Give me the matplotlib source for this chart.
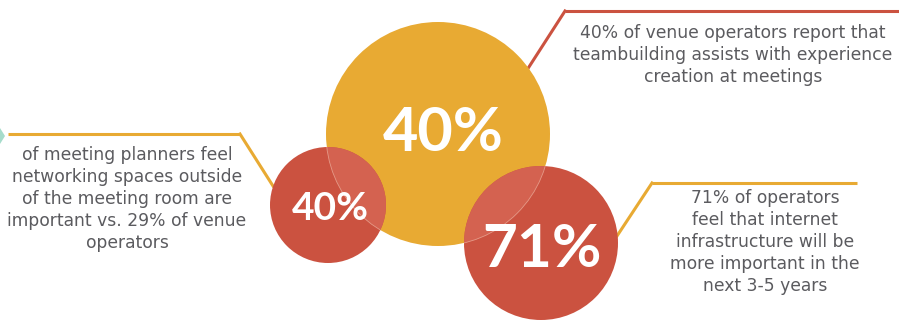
import matplotlib
matplotlib.use("Agg")
import matplotlib.pyplot as plt
from matplotlib.patches import Circle, Polygon

# Statistics shown in the bubbles
stat_values = [40, 40, 71]
stat_captions = [
    "40% of venue operators report that\nteambuilding assists with experience\ncreation at meetings",
    "of meeting planners feel\nnetworking spaces outside\nof the meeting room are\nimportant vs. 29% of venue\noperators",
    "71% of operators\nfeel that internet\ninfrastructure will be\nmore important in the\nnext 3-5 years",
]

YELLOW = "#E8AA33"
RED = "#CB5240"
OVERLAP = "#D46250"
TEXT = "#5B5B5F"
TEAL = "#A6DCCB"

W, H = 899, 328
fig = plt.figure(figsize=(W / 100, H / 100), dpi=100)
ax = fig.add_axes([0, 0, 1, 1])
ax.set_xlim(0, W)
ax.set_ylim(H, 0)
ax.set_aspect("equal")
ax.axis("off")

# bubble layout: (x, y, radius, colour, font size, label x, label y)
bubbles = [
    (438, 134, 112, YELLOW, 44, 443, 133),
    (328, 205, 58, RED, 28, 330, 208),
    (541, 243, 77, RED, 43.5, 542, 250),
]

# connector lines
ax.plot([565, 899], [11, 11], color=RED, lw=2.2, solid_capstyle="butt", zorder=1)
ax.plot([565, 527], [11, 70], color=RED, lw=2.2, zorder=1)
ax.plot([8, 240], [134, 134], color=YELLOW, lw=2.2, solid_capstyle="butt", zorder=1)
ax.plot([240, 273], [134, 186], color=YELLOW, lw=2.2, zorder=1)
ax.plot([652, 857], [183, 183], color=YELLOW, lw=2.2, solid_capstyle="butt", zorder=1)
ax.plot([652, 617], [183, 236], color=YELLOW, lw=2.2, zorder=1)

# small teal marker at the left edge
ax.add_patch(Polygon([[-6, 136], [0, 128], [5, 136], [0, 144]], closed=True,
                     facecolor=TEAL, edgecolor="none", zorder=1))

# main bubble
bx, by, br = bubbles[0][:3]
ax.add_patch(Circle((bx, by), br, facecolor=bubbles[0][3], edgecolor="none", zorder=2))

for i in (1, 2):
    x, y, r, c = bubbles[i][:4]
    red = Circle((x, y), r, facecolor=c, edgecolor="none", zorder=3)
    ax.add_patch(red)
    # lighter lens where the red bubble overlaps the yellow one
    lens = Circle((bx, by), br, facecolor=OVERLAP, edgecolor="#E59A88",
                  lw=0.6, zorder=4)
    ax.add_patch(lens)
    lens.set_clip_path(red)

num_font = ["Lato", "DejaVu Sans"]
for (x, y, r, c, fs, lx, ly), v in zip(bubbles, stat_values):
    ax.text(lx, ly, f"{v}%", ha="center", va="center",
            color="white", fontsize=fs, fontweight="bold", family=num_font, zorder=6)

cap_font = ["DejaVu Sans"]
cap_kw = dict(ha="center", va="center", color=TEXT, fontsize=12.3,
              family=cap_font, linespacing=1.28, zorder=6)
ax.text(733, 55, stat_captions[0], **cap_kw)
ax.text(127, 199, stat_captions[1], **cap_kw)
ax.text(765, 242, stat_captions[2], **cap_kw)

fig.savefig("out.png", dpi=100, facecolor="white")
